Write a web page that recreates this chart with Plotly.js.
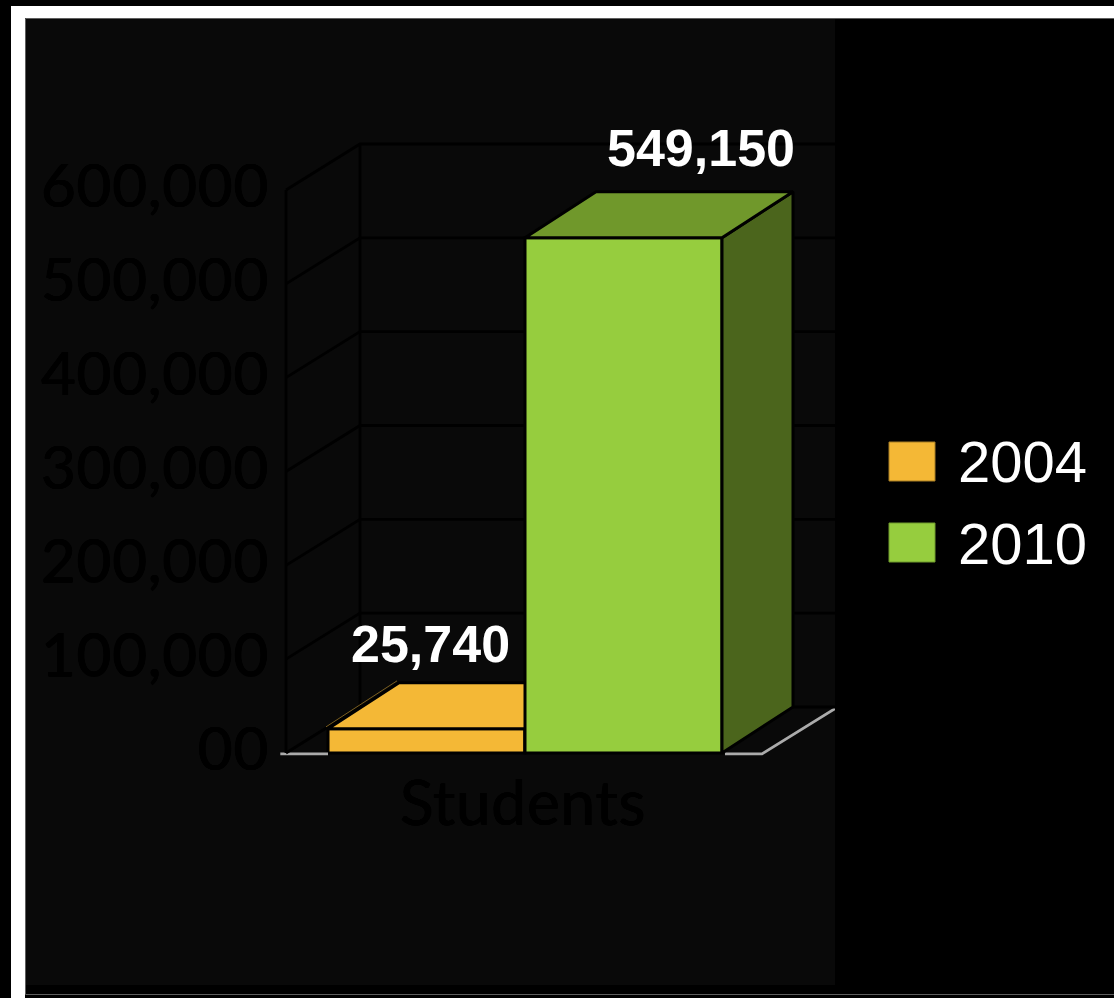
<!DOCTYPE html>
<html>
<head>
<meta charset="utf-8">
<script src="https://cdn.plot.ly/plotly-3.0.1.min.js"></script>
<style>
  html, body { margin: 0; padding: 0; background: #000; overflow: hidden; }
  #chart { width: 1114px; height: 998px; }
  .xtick text, .ytick text { letter-spacing: 0.8px; }
</style>
</head>
<body>
<div id="chart"></div>
<script>
// Enrolment figures
const categories = ['Students'];
const seriesNames = ['2004', '2010'];
const studentCounts = [25740, 549150];
const tickValues = [0, 100000, 200000, 300000, 400000, 500000, 600000];
const tickLabels = ['00', '100,000', '200,000', '300,000', '400,000', '500,000', '600,000'];

// Palette for each series: front, top, side
const frontColors = ['#F4B836', '#96CD3E'];
const topColors = ['#F4B836', '#70982B'];
const sideColors = ['#A67C24', '#4B651C'];

// Plot box in page pixels
const W = 1114, H = 998;
const plot = { l: 275, r: 835, t: 140, b: 760 };
const baselinePx = 753, centerPx = 525;
const unitsPerPx = 600000 / 563;   // value axis scale
const bandPx = 476;                // width of the category band

const xRange = [(plot.l - centerPx) / bandPx, (plot.r - centerPx) / bandPx];
const yRange = [(baselinePx - plot.b) * unitsPerPx, (baselinePx - plot.t) * unitsPerPx];

// Pseudo-3D projection offsets, in axis units
const barWidth = 197 / bandPx;
const barDepthX = 71 / bandPx;
const wallDepthX = 74 / bandPx;
const depthY = 46 * unitsPerPx;
const bandLeft = (286 - centerPx) / bandPx;
const bandRight = (762 - centerPx) / bandPx;
const edge = { color: '#000', width: 3 };
const rimY = -1000;
const heavyStroke = '0.5px 0 0 #000, -0.5px 0 0 #000, 0 0.4px 0 #000';

const pxX = p => (p - plot.l) / (plot.r - plot.l);
const pxY = p => 1 - (p - plot.t) / (plot.b - plot.t);

// Back wall, side wall and floor outline
const wallX = [], wallY = [];
tickValues.forEach(v => {
  wallX.push(bandLeft, bandLeft + wallDepthX, xRange[1] + 0.01, null);
  wallY.push(v, v + depthY, v + depthY, null);
});
wallX.push(bandLeft, bandLeft, null, bandLeft + wallDepthX, bandLeft + wallDepthX);
wallY.push(0, 600000, null, depthY, 600000 + depthY);

const traces = [
  {
    // light floor rim, broken where the boxes stand on it
    type: 'scatter', mode: 'lines',
    x: [bandLeft - 0.012, -barWidth, null, barWidth + 3 / bandPx, bandRight, bandRight + wallDepthX],
    y: [rimY, rimY, null, rimY, rimY, depthY + rimY],
    line: { color: '#ABABAB', width: 2.8 }, hoverinfo: 'skip', showlegend: false
  },
  {
    type: 'scatter', mode: 'lines', x: wallX, y: wallY,
    line: { color: '#000', width: 2.8 }, hoverinfo: 'skip', showlegend: false
  }
];

// Each series sits on its own overlaid axis pair so the later box hides the earlier one
seriesNames.forEach((name, i) => {
  const xa = i === 0 ? 'x' : 'x2';
  const ya = i === 0 ? 'y' : 'y2';
  const left = (i - 1) * barWidth;
  const right = left + barWidth;
  const v = studentCounts[i];
  traces.push({
    type: 'bar', x: [left + barWidth / 2], y: [v], width: [barWidth], name: name,
    xaxis: xa, yaxis: ya, marker: { color: frontColors[i], line: edge },
    hoverinfo: 'skip', showlegend: false
  });
  traces.push({
    type: 'scatter', mode: 'lines', fill: 'toself', fillcolor: sideColors[i],
    x: [right, right + barDepthX, right + barDepthX, right, right],
    y: [0, depthY, v + depthY, v, 0],
    xaxis: xa, yaxis: ya, line: edge, hoverinfo: 'skip', showlegend: false
  });
  traces.push({
    type: 'scatter', mode: 'lines', fill: 'toself', fillcolor: topColors[i],
    x: [left, left + barDepthX, right + barDepthX, right, left],
    y: [v, v + depthY, v + depthY, v, v],
    xaxis: xa, yaxis: ya, line: edge, hoverinfo: 'skip', showlegend: false
  });
});

// Thin highlight along the slanted edge of the short box
traces.splice(5, 0, {
  type: 'scatter', mode: 'lines',
  x: [-barWidth - 2 / bandPx, -barWidth + barDepthX - 2 / bandPx],
  y: [studentCounts[0] + 2 * unitsPerPx, studentCounts[0] + depthY + 2 * unitsPerPx],
  line: { color: '#7A5E20', width: 1 }, hoverinfo: 'skip', showlegend: false
});

const rect = (x0, y0, x1, y1, fill, line) => ({
  type: 'rect', xref: 'paper', yref: 'paper', layer: 'below',
  x0: pxX(x0), x1: pxX(x1), y0: pxY(y0), y1: pxY(y1),
  fillcolor: fill, line: line || { width: 0 }
});

const valueLabel = (i, shiftPx, gapPx) => {
  const right = (i - 1) * barWidth + barWidth;
  return {
    x: right - barWidth / 2 + shiftPx / bandPx,
    y: studentCounts[i] + depthY + gapPx * unitsPerPx,
    xref: 'x', yref: 'y', xanchor: 'center', yanchor: 'bottom', showarrow: false,
    text: studentCounts[i].toLocaleString('en-US'),
    font: { family: 'Liberation Sans, Arial, sans-serif', size: 52, color: '#fff', weight: 700 }
  };
};

const legendLabel = (i, py) => ({
  x: pxX(956), y: pxY(py), xref: 'paper', yref: 'paper',
  xanchor: 'left', yanchor: 'middle', showarrow: false, text: seriesNames[i],
  font: { family: 'Liberation Sans, Arial, sans-serif', size: 58, color: '#fff' }
});

const layout = {
  width: W, height: H,
  margin: { l: plot.l, r: W - plot.r, t: plot.t, b: H - plot.b, pad: 0 },
  paper_bgcolor: '#000',
  plot_bgcolor: 'rgba(0,0,0,0)',
  showlegend: false,
  xaxis: {
    range: xRange, tickmode: 'array', tickvals: [0], ticktext: categories,
    showgrid: false, zeroline: false, showline: false, ticks: '',
    ticklabelstandoff: 2, ticklabelshift: -2,
    tickfont: { family: 'Lato, sans-serif', size: 62, color: '#000', shadow: heavyStroke }
  },
  yaxis: {
    range: yRange, tickmode: 'array', tickvals: tickValues, ticktext: tickLabels,
    showgrid: false, zeroline: false, showline: false, ticks: '',
    ticklabelstandoff: 5, ticklabelshift: -4,
    tickfont: { family: 'Lato, sans-serif', size: 60, color: '#000', shadow: heavyStroke }
  },
  xaxis2: { range: xRange, overlaying: 'x', visible: false },
  yaxis2: { range: yRange, overlaying: 'y', visible: false },
  shapes: [
    rect(11, 6, W, H, '#fff'),
    rect(25, 18, W, H, '#000'),
    rect(25.5, 18.5, W + 5, 994.5, '#000', { color: '#5E5E5E', width: 1 }),
    rect(26, 19, 835, 985, '#090909'),
    rect(889, 442, 935, 481, frontColors[0], { color: '#A67C24', width: 1 }),
    rect(889, 523, 935, 562, frontColors[1], { color: '#6F9A2C', width: 1 })
  ],
  annotations: [
    valueLabel(0, 4, 8),
    valueLabel(1, 77, 13),
    legendLabel(0, 461),
    legendLabel(1, 543)
  ]
};

Plotly.newPlot('chart', traces, layout, { displayModeBar: false, staticPlot: true });
</script>
</body>
</html>
